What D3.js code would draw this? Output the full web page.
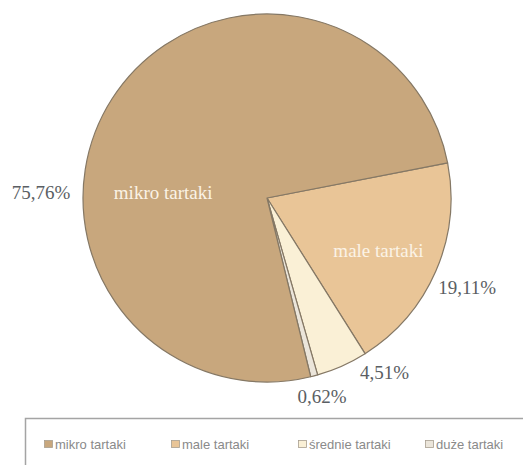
<!DOCTYPE html>
<html>
<head>
<meta charset="utf-8">
<script src="https://cdn.jsdelivr.net/npm/d3@7"></script>
<style>
  body { margin: 0; background: #fff; }
</style>
</head>
<body>
<div id="chart"></div>
<script>
// data, in drawing order (clockwise from the right side)
var categories = ["male tartaki", "średnie tartaki", "duże tartaki", "mikro tartaki"];
var shares = [19.11, 4.51, 0.62, 75.76];
var shareLabels = ["19,11%", "4,51%", "0,62%", "75,76%"];
var legendOrder = ["mikro tartaki", "male tartaki", "średnie tartaki", "duże tartaki"];
var colors = ["#e9c597", "#faf0d6", "#ebe5da", "#c8a77d"];

var width = 523,
    height = 465,
    cx = 267,
    cy = 198,
    radius = 184,
    startDeg = 79;

var svg = d3.select("#chart").append("svg")
    .attr("width", width)
    .attr("height", height);

var pie = d3.pie()
    .sort(null)
    .value(function(d) { return d; })
    .startAngle(startDeg * Math.PI / 180)
    .endAngle((startDeg + 360) * Math.PI / 180);

var arc = d3.arc().innerRadius(0).outerRadius(radius);

var arcs = pie(shares);

var g = svg.append("g").attr("transform", "translate(" + cx + "," + cy + ")");

g.selectAll("path.slice")
    .data(arcs)
    .enter().append("path")
    .attr("class", "slice")
    .attr("d", arc)
    .attr("fill", function(d, i) { return colors[i]; })
    .attr("stroke", "#857865")
    .attr("stroke-width", 1.2)
    .attr("stroke-linejoin", "round");

// label placement (angle in degrees, distance from centre)
var pctPos = {
    "male tartaki": [114, 219],
    "średnie tartaki": [146, 210],
    "duże tartaki": [164.5, 206],
    "mikro tartaki": [-88.5, 226]
};
var namePos = {
    "male tartaki": [115, 123],
    "mikro tartaki": [-86.7, 104]
};

function polar(p) {
    return d3.pointRadial(p[0] * Math.PI / 180, p[1]);
}

g.selectAll("text.pct")
    .data(arcs)
    .enter().append("text")
    .attr("class", "pct")
    .attr("transform", function(d, i) {
        return "translate(" + polar(pctPos[categories[i]]) + ")";
    })
    .attr("text-anchor", "middle")
    .attr("dy", ".35em")
    .style("font-family", "'Liberation Serif', serif")
    .style("font-size", "19px")
    .style("fill", "#5a5e63")
    .text(function(d, i) { return shareLabels[i]; });

g.selectAll("text.name")
    .data(arcs.filter(function(d, i) { return namePos[categories[i]]; }))
    .enter().append("text")
    .attr("class", "name")
    .attr("transform", function(d) {
        return "translate(" + polar(namePos[categories[d.index]]) + ")";
    })
    .attr("text-anchor", "middle")
    .attr("dy", ".35em")
    .style("font-family", "'Liberation Serif', serif")
    .style("font-size", "19px")
    .style("fill", "#fbf3e6")
    .text(function(d) { return categories[d.index]; });

// legend
var legend = svg.append("g");
legend.append("rect")
    .attr("x", 25.5)
    .attr("y", 418.5)
    .attr("width", width)
    .attr("height", 60)
    .attr("fill", "none")
    .attr("stroke", "#a4a4a4")
    .attr("stroke-width", 1.5);

var lx = d3.scalePoint().domain(legendOrder).range([44, 425]);

var item = legend.selectAll("g.item")
    .data(legendOrder)
    .enter().append("g")
    .attr("class", "item")
    .attr("transform", function(d) { return "translate(" + lx(d) + ",444)"; });

item.append("rect")
    .attr("x", 0.5)
    .attr("y", -3.5)
    .attr("width", 8)
    .attr("height", 7)
    .attr("fill", function(d) { return colors[categories.indexOf(d) >= 0 ? categories.indexOf(d) : 0]; })
    .attr("stroke", "#a89e90")
    .attr("stroke-width", 0.8);

item.append("text")
    .attr("x", 11)
    .attr("dy", ".35em")
    .style("font-family", "'Liberation Sans', Arial, sans-serif")
    .style("font-size", "13px")
    .style("fill", "#8a8a8a")
    .text(function(d) { return d; });
</script>
</body>
</html>
